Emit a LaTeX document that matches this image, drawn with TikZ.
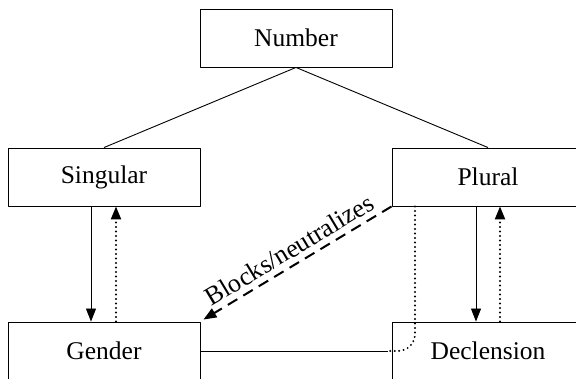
\documentclass[tikz,border=0pt]{standalone}
\usepackage{fontspec}
\setmainfont{Liberation Serif}
\usetikzlibrary{arrows.meta}

\tikzset{
  catbox/.style={draw, line width=0.9pt, minimum width=192pt, minimum height=58pt,
    inner sep=0pt, font=\fontsize{25.5}{30}\selectfont},
  dotline/.style={line width=2.2pt, dash pattern=on 0pt off 4.5pt, line cap=round},
  dashline/.style={line width=2pt, dash pattern=on 11pt off 7pt}
}

\begin{document}
\begin{tikzpicture}[line join=round,>={Triangle[length=13pt,width=10pt]},x=1pt,y=-1pt]
\useasboundingbox (0,0) rectangle (576,379);
\clip (0,0) rectangle (576,379);

\node[catbox] (number) at (296,38) {Number};
\node[catbox] (singular) at (104,177) {Singular};
\node[catbox] (plural) at (488,177) {Plural};
\node[catbox] (gender) at (104,351) {Gender};
\node[catbox] (declension) at (488,351) {Declension};

\draw[line width=0.9pt] (number.south) -- (singular.north);
\draw[line width=0.9pt] (number.south) -- (plural.north);

% up and down between the levels
\draw[->,line width=0.9pt] ([xshift=-13pt]singular.south) -- ([xshift=-13pt]gender.north);
\draw[->,dotline] ([xshift=12pt]gender.north) -- ([xshift=12pt]singular.south);
\draw[->,line width=0.9pt] ([xshift=-12pt]plural.south) -- ([xshift=-12pt]declension.north);
\draw[->,dotline] ([xshift=12pt]declension.north) -- ([xshift=12pt]plural.south);

% gender meets declension
\coordinate (meet) at ([xshift=-4pt]declension.west);
\draw[line width=0.9pt] (gender.east) -- (meet);
\draw[dotline,rounded corners=17pt] ([xshift=-73pt]plural.south) |- (meet);

\draw[->,dashline] (plural.south west) -- ([xshift=3pt,yshift=2pt]gender.north east)
  node[midway,above=2pt,sloped,font=\fontsize{26}{30}\selectfont] {Blocks/neutralizes};

\end{tikzpicture}
\end{document}
